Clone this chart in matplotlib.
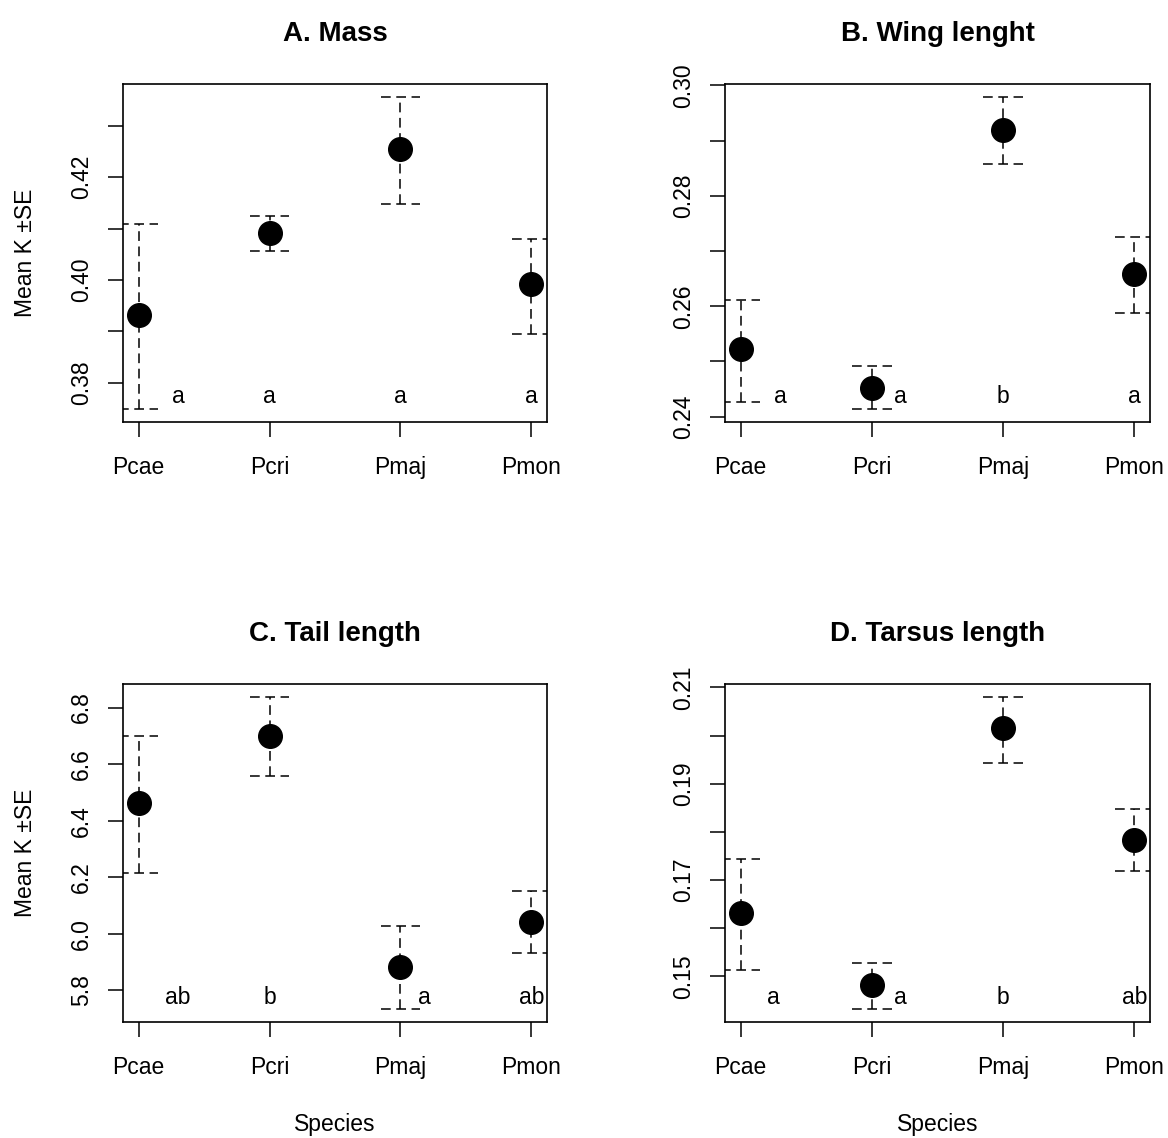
import numpy as np
import matplotlib
matplotlib.use("Agg")
import matplotlib.pyplot as plt

plt.rcParams['font.family'] = ['Liberation Sans', 'DejaVu Sans']
plt.rcParams['lines.scale_dashes'] = False

species = ["Pcae", "Pcri", "Pmaj", "Pmon"]

# A. Mass
mass_mean = [0.3931, 0.4092, 0.4255, 0.3992]
mass_upper = [0.4108, 0.4125, 0.4357, 0.4080]
mass_lower = [0.3748, 0.4056, 0.4147, 0.3895]
mass_letters = ["a", "a", "a", "a"]
mass_letter_x = [1.3, 2, 3, 4]
mass_letter_y = 0.3773
mass_ticks = [0.38, 0.39, 0.40, 0.41, 0.42, 0.43]
mass_ticklabels = ["0.38", "", "0.40", "", "0.42", ""]

# B. Wing
wing_mean = [0.2522, 0.2452, 0.2920, 0.2659]
wing_upper = [0.2611, 0.2491, 0.2980, 0.2725]
wing_lower = [0.2427, 0.2413, 0.2857, 0.2588]
wing_letters = ["a", "a", "b", "a"]
wing_letter_x = [1.3, 2.22, 3, 4]
wing_letter_y = 0.2437
wing_ticks = [0.24, 0.25, 0.26, 0.27, 0.28, 0.29, 0.30]
wing_ticklabels = ["0.24", "", "0.26", "", "0.28", "", "0.30"]

# C. Tail
tail_mean = [6.461, 6.701, 5.881, 6.041]
tail_upper = [6.698, 6.839, 6.026, 6.152]
tail_lower = [6.214, 6.559, 5.732, 5.932]
tail_letters = ["ab", "b", "a", "ab"]
tail_letter_x = [1.3, 2, 3.18, 4]
tail_letter_y = 5.773
tail_ticks = [5.8, 6.0, 6.2, 6.4, 6.6, 6.8]
tail_ticklabels = ["5.8", "6.0", "6.2", "6.4", "6.6", "6.8"]

# D. Tarsus
tarsus_mean = [0.1631, 0.1481, 0.2016, 0.1784]
tarsus_upper = [0.1743, 0.1528, 0.2081, 0.1848]
tarsus_lower = [0.1512, 0.1431, 0.1943, 0.1719]
tarsus_letters = ["a", "a", "b", "ab"]
tarsus_letter_x = [1.25, 2.22, 3, 4]
tarsus_letter_y = 0.1455
tarsus_ticks = [0.15, 0.16, 0.17, 0.18, 0.19, 0.20, 0.21]
tarsus_ticklabels = ["0.15", "", "0.17", "", "0.19", "", "0.21"]

W, H = 1168, 1138
fig = plt.figure(figsize=(W / 100, H / 100), dpi=100)

FS = 16.5
DASH = (7, 4)


def painel(box, titulo, mean, upper, lower, letters, lx, ly, ticks, ticklabels,
           ylab=False, xlab=False):
    x0, y0, x1, y1 = box
    ax = fig.add_axes([x0 / W, 1 - y1 / H, (x1 - x0) / W, (y1 - y0) / H])
    x = np.arange(1, len(species) + 1)

    # limites estilo R: 4% de folga
    lo, hi = min(lower), max(upper)
    r = hi - lo
    ax.set_ylim(lo - 0.04 * r, hi + 0.04 * r)
    ax.set_xlim(1 - 0.04 * 3, 4 + 0.04 * 3)

    cap = 0.15
    for i in range(len(x)):
        ax.plot([x[i], x[i]], [lower[i], upper[i]], color='k', lw=1.1,
                linestyle=(0, DASH))
        for yy in (lower[i], upper[i]):
            ax.plot([x[i] - cap, x[i] + cap], [yy, yy], color='k', lw=1.1,
                    linestyle=(0, DASH))
    ax.plot(x, mean, 'o', color='k', markersize=17, zorder=5)

    for t, xx in zip(letters, lx):
        ax.text(xx, ly, t, ha='center', va='center', fontsize=FS)

    ax.set_xticks(x)
    ax.set_xticklabels(species, fontsize=FS)
    ax.set_yticks(ticks)
    ax.set_yticklabels(ticklabels, fontsize=FS, rotation=90, va='center')
    ax.tick_params(axis='both', direction='out', length=10.8, width=1.1,
                   color='k')
    ax.tick_params(axis='x', pad=14)
    ax.tick_params(axis='y', pad=11)
    for s in ax.spines.values():
        s.set_linewidth(1.2)

    ax.set_title(titulo, fontsize=20, fontweight='bold', pad=31)
    if ylab:
        fig.text(26 / W, 1 - (y0 + y1) / 2 / H, "Mean K \u00b1SE", fontsize=FS,
                 rotation=90, ha='center', va='center')
    if xlab:
        fig.text((x0 + x1) / 2 / W, 1 - 1125 / H, "Species", fontsize=FS,
                 ha='center', va='center')
    return ax


painel((123, 84, 547, 422), "A. Mass", mass_mean, mass_upper, mass_lower,
       mass_letters, mass_letter_x, mass_letter_y, mass_ticks, mass_ticklabels,
       ylab=True)
painel((725, 84, 1150, 422), "B. Wing lenght", wing_mean, wing_upper, wing_lower,
       wing_letters, wing_letter_x, wing_letter_y, wing_ticks, wing_ticklabels)
painel((123, 684, 547, 1022), "C. Tail length", tail_mean, tail_upper, tail_lower,
       tail_letters, tail_letter_x, tail_letter_y, tail_ticks, tail_ticklabels,
       ylab=True, xlab=True)
painel((725, 684, 1150, 1022), "D. Tarsus length", tarsus_mean, tarsus_upper,
       tarsus_lower, tarsus_letters, tarsus_letter_x, tarsus_letter_y,
       tarsus_ticks, tarsus_ticklabels, xlab=True)

fig.savefig("out.png", dpi=100)
